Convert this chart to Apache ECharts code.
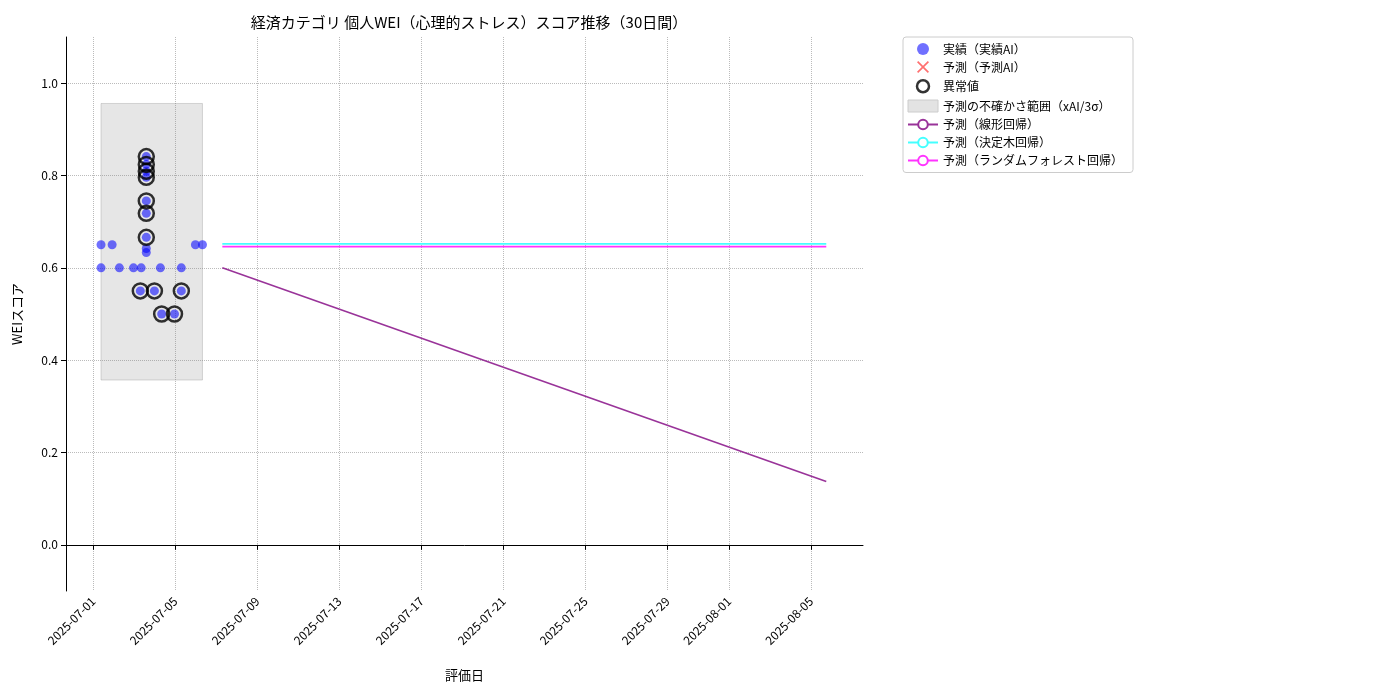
<!DOCTYPE html>
<html><head><meta charset="utf-8">
<script src="https://cdn.jsdelivr.net/npm/echarts@6/dist/echarts.min.js"></script>
<style>html,body{margin:0;padding:0;background:#fff}#c{width:1400px;height:700px}</style>
</head><body><div id="c"></div>
<script>
const actualPoints = [
 ['2025-07-01 09:00',0.65],['2025-07-01 22:00',0.65],['2025-07-05 23:30',0.65],['2025-07-06 07:45',0.65],
 ['2025-07-01 09:00',0.60],['2025-07-02 06:30',0.60],['2025-07-02 23:00',0.60],['2025-07-03 08:00',0.60],['2025-07-04 06:30',0.60],['2025-07-05 07:00',0.60],
 ['2025-07-03 07:00',0.55],['2025-07-03 23:30',0.55],['2025-07-05 07:00',0.55],
 ['2025-07-04 08:00',0.50],['2025-07-04 23:00',0.50],
 ['2025-07-03 14:00',0.841],['2025-07-03 14:00',0.824],['2025-07-03 14:00',0.809],['2025-07-03 14:00',0.796],
 ['2025-07-03 14:00',0.745],['2025-07-03 14:00',0.718],['2025-07-03 14:00',0.666],
 ['2025-07-03 14:00',0.642],['2025-07-03 14:00',0.633]
];
const outlierPoints = [
 ['2025-07-03 07:00',0.55],['2025-07-03 23:30',0.55],['2025-07-05 07:00',0.55],
 ['2025-07-04 08:00',0.50],['2025-07-04 23:00',0.50],
 ['2025-07-03 14:00',0.841],['2025-07-03 14:00',0.824],['2025-07-03 14:00',0.809],['2025-07-03 14:00',0.796],
 ['2025-07-03 14:00',0.745],['2025-07-03 14:00',0.718],['2025-07-03 14:00',0.666]
];
const bandRange = {x0:'2025-07-01 09:00', x1:'2025-07-06 07:45', y0:0.357, y1:0.956};
const linearPred = [['2025-07-07 07:00',0.60],['2025-08-05 18:00',0.137]];
const treePred = [['2025-07-07 07:00',0.652],['2025-08-05 18:00',0.652]];
const forestPred = [['2025-07-07 07:00',0.646],['2025-08-05 18:00',0.646]];
const xTicks = ['2025-07-01','2025-07-05','2025-07-09','2025-07-13','2025-07-17','2025-07-21','2025-07-25','2025-07-29','2025-08-01','2025-08-05'];
const yTicks = [0.0,0.2,0.4,0.6,0.8,1.0];
const names = ['実績（実績AI）','予測（予測AI）','異常値','予測の不確かさ範囲（xAI/3σ）','予測（線形回帰）','予測（決定木回帰）','予測（ランダムフォレスト回帰）'];

const ms = s => new Date(s.replace(' ','T') + (s.length===10?'T00:00:00':':00')).getTime();
const conv = arr => arr.map(p => [ms(p[0]), p[1]]);
const xTickMs = xTicks.map(ms);
const pad = n => String(n).padStart(2,'0');
const fmtDate = v => { const d = new Date(v); return d.getFullYear()+'-'+pad(d.getMonth()+1)+'-'+pad(d.getDate()); };
const f = 'Noto Sans CJK JP';
const crossPath = 'path://M2,0L10,8L18,0L20,2L12,10L20,18L18,20L10,12L2,20L0,18L8,10L0,2Z';
const chart = echarts.init(document.getElementById('c'));
chart.setOption({
 animation:false,
 textStyle:{fontFamily:f},
 title:{text:'経済カテゴリ 個人WEI（心理的ストレス）スコア推移（30日間）',left:464,textAlign:'center',top:10,textStyle:{fontSize:15,fontWeight:'normal',color:'#000',fontFamily:f}},
 grid:{left:66,right:537,top:37,bottom:109},
 legend:{orient:'vertical',left:903,top:37,padding:[6,10,6,4],itemGap:6,itemWidth:30,itemHeight:12,
   borderColor:'#ccc',borderWidth:1,borderRadius:3,textStyle:{fontSize:12,color:'#000',fontFamily:f},
   data:[
    {name:names[0],icon:'circle',itemStyle:{color:'rgba(0,0,255,0.7)'}},
    {name:names[1],icon:crossPath,itemStyle:{color:'rgba(255,0,0,0.7)'}},
    {name:names[2],icon:'circle',itemStyle:{color:'#fff',borderColor:'#000',borderWidth:2.5}},
    {name:names[3],icon:'rect',itemStyle:{color:'#e3e3e3',borderColor:'#ccc',borderWidth:1}},
    {name:names[4]},{name:names[5]},{name:names[6]}
   ]},
 xAxis:{type:'value',min:ms('2025-06-29 16:00'),max:ms('2025-08-07 13:00'),
   name:'評価日',nameLocation:'middle',nameGap:78,nameTextStyle:{fontSize:13,color:'#000'},
   axisLine:{lineStyle:{color:'#000'}},
   axisTick:{show:true,customValues:xTickMs,lineStyle:{color:'#000'}},
   axisLabel:{customValues:xTickMs,rotate:45,color:'#000',fontSize:12,formatter:fmtDate},
   splitLine:{show:true,lineStyle:{type:'dotted',color:'#bbb'}}},
 yAxis:{type:'value',min:-0.1,max:1.1,
   name:'WEIスコア',nameLocation:'middle',nameGap:42,nameTextStyle:{fontSize:13,color:'#000'},
   axisLine:{show:true,lineStyle:{color:'#000'}},
   axisTick:{show:true,customValues:yTicks,lineStyle:{color:'#000'}},
   axisLabel:{customValues:yTicks,color:'#000',fontSize:12,formatter:v=>v.toFixed(1)},
   splitLine:{show:true,lineStyle:{type:'dotted',color:'#bbb'}}},
 series:[
  {name:names[3],type:'line',data:[],z:1,itemStyle:{color:'#e3e3e3'},
   markArea:{silent:true,itemStyle:{color:'rgba(128,128,128,0.2)',borderColor:'rgba(128,128,128,0.3)',borderWidth:1},
     data:[[{xAxis:ms(bandRange.x0),yAxis:bandRange.y0},{xAxis:ms(bandRange.x1),yAxis:bandRange.y1}]]}},
  {name:names[0],type:'scatter',data:conv(actualPoints),symbolSize:9,z:3,itemStyle:{color:'rgba(0,0,255,0.7)'}},
  {name:names[1],type:'scatter',data:[],symbol:crossPath,itemStyle:{color:'rgba(255,0,0,0.7)'}},
  {name:names[2],type:'scatter',data:conv(outlierPoints),symbolSize:15,z:4,itemStyle:{color:'rgba(0,0,0,0)',borderColor:'#000',borderWidth:2.5}},
  {name:names[4],type:'line',data:conv(linearPred),showSymbol:false,lineStyle:{color:'#993399',width:1.6},itemStyle:{color:'#993399'}},
  {name:names[5],type:'line',data:conv(treePred),showSymbol:false,lineStyle:{color:'#44ffff',width:1.6},itemStyle:{color:'#44ffff'}},
  {name:names[6],type:'line',data:conv(forestPred),showSymbol:false,lineStyle:{color:'#ff33ff',width:1.6},itemStyle:{color:'#ff33ff'}}
 ]
});
</script></body></html>
